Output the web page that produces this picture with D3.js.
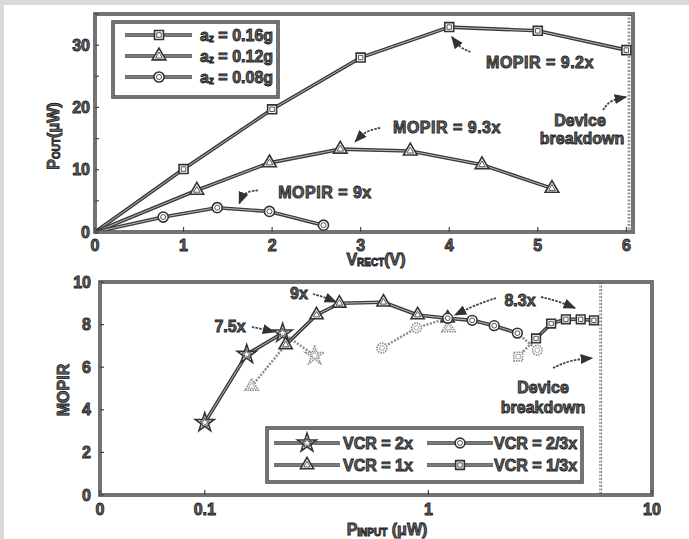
<!DOCTYPE html>
<html>
<head>
<meta charset="utf-8">
<script src="https://cdn.jsdelivr.net/npm/d3@7"></script>
<style>
  body { margin: 0; background: #fff; }
  svg { display: block; }
  text { font-family: "Liberation Sans", Arial, sans-serif; font-weight: bold; fill: #666; stroke: #1e1e1e; stroke-width: 0.85px; }
</style>
</head>
<body>
<svg></svg>
<script>
const width = 689;
const height = 539;

// top panel: Pout vs Vrect
const vrect16 = [0, 1, 2, 3, 4, 5, 6];
const pout16 = [0, 10.1, 19.7, 28.0, 32.9, 32.3, 29.2];
const vrect12 = [0, 1.15, 1.97, 2.77, 3.56, 4.37, 5.16];
const pout12 = [0, 6.7, 11.1, 13.3, 13.0, 10.8, 7.0];
const vrect08 = [0, 0.77, 1.38, 1.97, 2.58];
const pout08 = [0, 2.4, 3.9, 3.3, 1.1];
const topLegend = ["0.16g", "0.12g", "0.08g"];
const topXTicks = [0, 1, 2, 3, 4, 5, 6];
const topYTicks = [0, 10, 20, 30];
const topBreakdown = 6.03;

// bottom panel: MOPIR vs Pinput
const pinVcr2 = [0.1, 0.154, 0.223, 0.31];
const mopirVcr2 = [3.4, 6.6, 7.6, 6.55];
const pinVcr1 = [0.162, 0.23, 0.316, 0.40, 0.63, 0.895, 1.22, 1.23];
const mopirVcr1 = [5.1, 7.05, 8.45, 9.0, 9.05, 8.45, 8.3, 7.85];
const pinVcr23 = [0.62, 0.885, 1.22, 1.57, 1.97, 2.5, 3.07];
const mopirVcr23 = [6.9, 7.85, 8.3, 8.2, 7.95, 7.6, 6.8];
const pinVcr13 = [2.52, 3.03, 3.54, 4.12, 4.8, 5.5];
const mopirVcr13 = [6.5, 7.35, 8.05, 8.25, 8.25, 8.2];
const bottomLegend = ["VCR = 2x", "VCR = 1x", "VCR = 2/3x", "VCR = 1/3x"];
const bottomXTicks = [0.034, 0.1, 1, 10];
const bottomXLabels = ["0", "0.1", "1", "10"];
const bottomYTicks = [0, 2, 4, 6, 8, 10];
const bottomBreakdown = 5.9;

const svg = d3.select("svg").attr("width", width).attr("height", height);

// scanned page edge
svg.append("rect").attr("width", width).attr("height", 5).attr("fill", "#d9d9d9");
svg.append("rect").attr("width", 4).attr("height", height).attr("fill", "#d9d9d9");

svg.append("defs").append("marker")
  .attr("id", "head")
  .attr("viewBox", "0 -5 10 10")
  .attr("refX", 9)
  .attr("markerWidth", 7)
  .attr("markerHeight", 7)
  .attr("orient", "auto")
  .append("path")
  .attr("d", "M0,-4L10,0L0,4Z")
  .attr("fill", "#333");

const sym = {
  square: d3.symbolSquare,
  triangle: d3.symbolTriangle,
  circle: d3.symbolCircle,
  star: d3.symbolStar
};

// double-stroke look of the scanned lines
function scanLine(g, pts, faint) {
  const line = d3.line();
  if (faint) {
    g.append("path").attr("d", line(pts)).attr("fill", "none")
      .attr("stroke", "#8c8c8c").attr("stroke-width", 2.5).attr("stroke-dasharray", "2,1.5");
  } else {
    g.append("path").attr("d", line(pts)).attr("fill", "none")
      .attr("stroke", "#3a3a3a").attr("stroke-width", 3.6);
    g.append("path").attr("d", line(pts)).attr("fill", "none")
      .attr("stroke", "#c8c8c8").attr("stroke-width", 0.9);
  }
}

function marker(g, x, y, shape, size, faint) {
  const s = g.append("g").attr("transform", `translate(${x},${y})`);
  s.append("path").attr("d", d3.symbol(sym[shape], size)())
    .attr("fill", "#fff").attr("stroke", faint ? "#8c8c8c" : "#333")
    .attr("stroke-width", 1.6).attr("stroke-dasharray", faint ? "1.5,1" : null);
  s.append("path").attr("d", d3.symbol(sym[shape], size * 0.25)())
    .attr("fill", "none").attr("stroke", faint ? "#aaa" : "#555").attr("stroke-width", 1);
}

function frame(x0, y0, x1, y1) {
  svg.append("rect").attr("x", x0).attr("y", y0).attr("width", x1 - x0).attr("height", y1 - y0)
    .attr("fill", "none").attr("stroke", "#444").attr("stroke-width", 3.5);
  svg.append("rect").attr("x", x0).attr("y", y0).attr("width", x1 - x0).attr("height", y1 - y0)
    .attr("fill", "none").attr("stroke", "#bbb").attr("stroke-width", 0.8);
}

function arrow(pts) {
  svg.append("path")
    .attr("d", d3.line().curve(d3.curveBasis)(pts))
    .attr("fill", "none").attr("stroke", "#444").attr("stroke-width", 1.8)
    .attr("stroke-dasharray", "2.5,1.2")
    .attr("marker-end", "url(#head)");
}

function label(x, y, str, size, anchor) {
  return svg.append("text").attr("x", x).attr("y", y)
    .attr("font-size", size).attr("text-anchor", anchor || "middle")
    .attr("dominant-baseline", "central").text(str);
}

// ---------- top panel ----------
const xTop = d3.scaleLinear().domain([0, 6.075]).range([95, 633]);
const yTop = d3.scaleLinear().domain([0, 35]).range([232, 14]);

const gTop = svg.append("g");
gTop.append("line")
  .attr("x1", xTop(topBreakdown)).attr("x2", xTop(topBreakdown))
  .attr("y1", yTop(35)).attr("y2", yTop(0))
  .attr("stroke", "#555").attr("stroke-width", 2.5).attr("stroke-dasharray", "2,1.5");
gTop.append("line")
  .attr("x1", xTop(topBreakdown)).attr("x2", xTop(topBreakdown))
  .attr("y1", yTop(35)).attr("y2", yTop(0))
  .attr("stroke", "#fff").attr("stroke-width", 0.8);

const topSeries = [
  { xs: vrect16, ys: pout16, shape: "square" },
  { xs: vrect12, ys: pout12, shape: "triangle" },
  { xs: vrect08, ys: pout08, shape: "circle" }
];
topSeries.forEach(s => {
  const pts = s.xs.map((v, i) => [xTop(v), yTop(s.ys[i])]);
  scanLine(gTop, pts, false);
});
topSeries.forEach(s => {
  s.xs.forEach((v, i) => {
    if (i > 0) marker(gTop, xTop(v), yTop(s.ys[i]), s.shape, 80, false);
  });
});

frame(95, 14, 633, 232);

// ticks
d3.range(0, 36, 5).forEach(v => {
  svg.append("line").attr("x1", 95).attr("x2", 99).attr("y1", yTop(v)).attr("y2", yTop(v))
    .attr("stroke", "#444").attr("stroke-width", 1.2);
});
topXTicks.forEach(v => {
  svg.append("line").attr("x1", xTop(v)).attr("x2", xTop(v)).attr("y1", 232).attr("y2", 227)
    .attr("stroke", "#444").attr("stroke-width", 1.2);
  label(xTop(v), 245, v, 16);
});
topYTicks.forEach(v => label(90, yTop(v), v, 16, "end"));

// axis titles
const pTitle = svg.append("text").attr("transform", "translate(53,136) rotate(-90)")
  .attr("text-anchor", "middle").attr("dominant-baseline", "central").attr("font-size", 16);
pTitle.append("tspan").text("P");
pTitle.append("tspan").attr("font-size", 10).attr("dy", 3).text("OUT");
pTitle.append("tspan").attr("dy", -3).text("(μW)");
const vTitle = svg.append("text").attr("x", 376).attr("y", 259)
  .attr("text-anchor", "middle").attr("dominant-baseline", "central").attr("font-size", 16);
vTitle.append("tspan").text("V");
vTitle.append("tspan").attr("font-size", 10).attr("dy", 3).text("RECT");
vTitle.append("tspan").attr("dy", -3).text("(V)");

// legend
frame(113, 22, 278, 97);
["square", "triangle", "circle"].forEach((shape, i) => {
  const y = 35 + i * 21;
  scanLine(svg, [[125, y], [192, y]], false);
  marker(svg, 159, y, shape, 80, false);
  const t = svg.append("text").attr("x", 200).attr("y", y)
    .attr("dominant-baseline", "central").attr("font-size", 16);
  t.append("tspan").text("a");
  t.append("tspan").attr("font-size", 10).attr("dy", 3).text("z");
  t.append("tspan").attr("dy", -3).text(" = " + topLegend[i]);
});

// annotations
label(540, 62, "MOPIR = 9.2x", 16).attr("letter-spacing", 0.5);
arrow([[xTop(4.24), yTop(28.9)], [xTop(4.12), yTop(29.6)], [xTop(4.03), yTop(31.3)]]);
label(447, 127, "MOPIR = 9.3x", 16).attr("letter-spacing", 0.5);
arrow([[xTop(3.22), yTop(16.7)], [xTop(3.05), yTop(16.2)], [xTop(2.94), yTop(14.5)]]);
label(325, 192, "MOPIR = 9x", 16).attr("letter-spacing", 0.5);
arrow([[xTop(1.84), yTop(6.7)], [xTop(1.68), yTop(6.4)], [xTop(1.63), yTop(4.6)]]);
label(580, 120, "Device", 16);
label(582, 138, "breakdown", 16);
arrow([[603, 110], [610, 100], [626, 97]]);

// ---------- bottom panel ----------
const xBot = d3.scaleLog().domain([0.034, 10]).range([100, 652]);
const yBot = d3.scaleLinear().domain([0, 10]).range([495, 282]);

const gBot = svg.append("g");
gBot.append("line")
  .attr("x1", xBot(bottomBreakdown)).attr("x2", xBot(bottomBreakdown))
  .attr("y1", yBot(10)).attr("y2", yBot(0))
  .attr("stroke", "#555").attr("stroke-width", 2.5).attr("stroke-dasharray", "2,1.5");
gBot.append("line")
  .attr("x1", xBot(bottomBreakdown)).attr("x2", xBot(bottomBreakdown))
  .attr("y1", yBot(10)).attr("y2", yBot(0))
  .attr("stroke", "#fff").attr("stroke-width", 0.8);

// faint = points drawn pale in the scan
const botSeries = [
  { xs: pinVcr2, ys: mopirVcr2, shape: "star", faint: [3] },
  { xs: pinVcr1, ys: mopirVcr1, shape: "triangle", faint: [0, 7] },
  { xs: pinVcr23, ys: mopirVcr23, shape: "circle", faint: [0, 1, 6] },
  { xs: pinVcr13, ys: mopirVcr13, shape: "square", faint: [0] }
];
botSeries.forEach(s => {
  const pts = s.xs.map((v, i) => [xBot(v), yBot(s.ys[i])]);
  for (let i = 0; i < pts.length - 1; i++) {
    const pale = s.faint.includes(i) || s.faint.includes(i + 1);
    scanLine(gBot, [pts[i], pts[i + 1]], pale);
  }
});
botSeries.forEach(s => {
  s.xs.forEach((v, i) => {
    marker(gBot, xBot(v), yBot(s.ys[i]), s.shape, s.shape === "star" ? 110 : 75, s.faint.includes(i));
  });
});

frame(100, 282, 652, 495);

bottomYTicks.forEach(v => {
  svg.append("line").attr("x1", 100).attr("x2", 104).attr("y1", yBot(v)).attr("y2", yBot(v))
    .attr("stroke", "#444").attr("stroke-width", 1.2);
  label(91, yBot(v), v, 16, "end");
});
bottomXTicks.forEach((v, i) => {
  svg.append("line").attr("x1", xBot(v)).attr("x2", xBot(v)).attr("y1", 495).attr("y2", 490)
    .attr("stroke", "#444").attr("stroke-width", 1.2);
  label(xBot(v), 509, bottomXLabels[i], 16);
});

label(63, 390, "MOPIR", 16).attr("transform", "rotate(-90,63,390)");
const inTitle = svg.append("text").attr("x", 387).attr("y", 529)
  .attr("text-anchor", "middle").attr("dominant-baseline", "central").attr("font-size", 16);
inTitle.append("tspan").text("P");
inTitle.append("tspan").attr("font-size", 10).attr("dy", 3).text("INPUT");
inTitle.append("tspan").attr("dy", -3).text(" (μW)");

// legend
frame(267, 428, 582, 482);
const legendShapes = ["star", "triangle", "circle", "square"];
legendShapes.forEach((shape, i) => {
  const col = Math.floor(i / 2), row = i % 2;
  const y = 443 + row * 22;
  const x0 = col === 0 ? 274 : 427;
  const x1 = col === 0 ? 340 : 493;
  scanLine(svg, [[x0, y], [x1, y]], false);
  marker(svg, col === 0 ? 307 : 460, y, shape, shape === "star" ? 110 : 75, false);
  label(col === 0 ? 343 : 494, y, bottomLegend[i], 16, "start");
});

// annotations
label(230, 326, "7.5x", 16);
arrow([[252, 327], [262, 329], [274, 332]]);
label(299, 293, "9x", 16);
arrow([[313, 294], [324, 297], [336, 302]]);
label(520, 300, "8.3x", 16);
arrow([[496, 298], [475, 305], [455, 315]]);
arrow([[541, 297], [558, 301], [575, 308]]);
label(543, 387, "Device", 16);
label(543, 407, "breakdown", 16);
arrow([[553, 368], [570, 360], [592, 358]]);
</script>
</body>
</html>
